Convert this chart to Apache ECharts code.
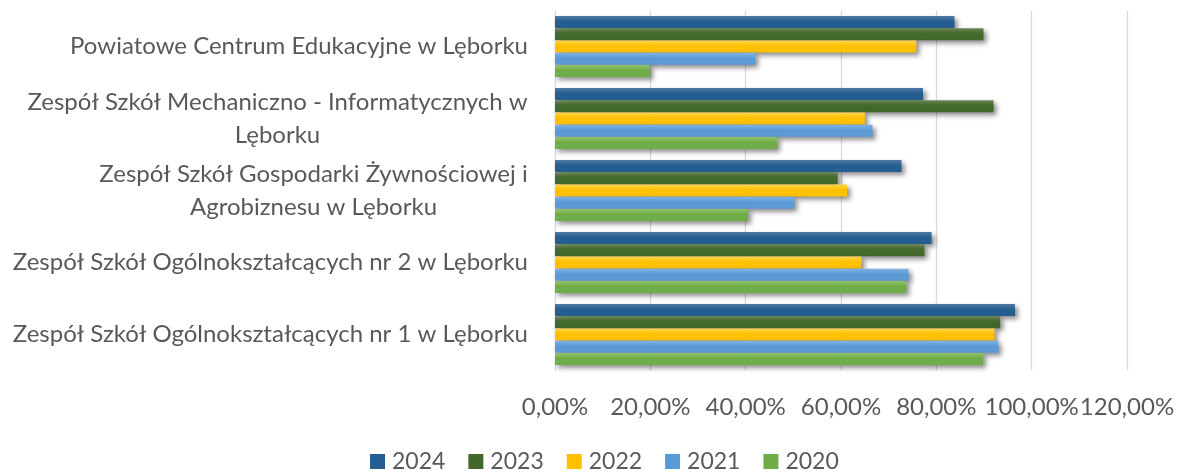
<!DOCTYPE html>
<html>
<head>
<meta charset="utf-8">
<script src="https://cdn.jsdelivr.net/npm/echarts@6/dist/echarts.min.js"></script>
<style>html,body{margin:0;padding:0;background:#fff;}#c{width:1181px;height:472px;}</style>
</head>
<body>
<div id="c"></div>
<script>
// Categories listed bottom -> top (ECharts category axis order)
const categories = [
  'Zespół Szkół Ogólnokształcących nr 1 w Lęborku',
  'Zespół Szkół Ogólnokształcących nr 2 w Lęborku',
  'Zespół Szkół Gospodarki Żywnościowej i\nAgrobiznesu w Lęborku',
  'Zespół Szkół Mechaniczno - Informatycznych w\nLęborku',
  'Powiatowe Centrum Edukacyjne w Lęborku'
];
const years = ['2024', '2023', '2022', '2021', '2020'];
const v2024 = [96.5, 79.0, 72.7, 77.2, 83.8];
const v2023 = [93.4, 77.5, 59.3, 92.0, 89.9];
const v2022 = [92.2, 64.3, 61.3, 65.0, 75.8];
const v2021 = [93.0, 74.2, 50.2, 66.6, 42.0];
const v2020 = [89.8, 73.7, 40.5, 46.6, 19.9];
const xMin = 0, xMax = 120, xInterval = 20;

const FONT = 'Lato';
const FS = 24;
const TXT = '#595959';

const colors = {
  '2024': ['#5478A6', '#255E91'],
  '2023': ['#6A8557', '#43682B'],
  '2022': ['#FFD24D', '#FFC000'],
  '2021': ['#7FB2E0', '#5B9BD5'],
  '2020': ['#8FC26E', '#70AD47']
};
const seriesData = { '2024': v2024, '2023': v2023, '2022': v2022, '2021': v2021, '2020': v2020 };

// measure lines for centered multi-line labels
const cv = document.createElement('canvas').getContext('2d');
cv.font = FS + 'px ' + FONT;
const rich = {};
categories.forEach((c, i) => {
  const lines = c.split('\n');
  if (lines.length > 1) {
    const w = Math.max(...lines.map(l => cv.measureText(l).width));
    rich['w' + i] = { width: Math.ceil(w), align: 'center', fontSize: FS, fontFamily: FONT, color: TXT, lineHeight: 33 };
  }
});

const series = years.map(y => ({
  name: y,
  type: 'bar',
  data: seriesData[y],
  barGap: '2%',
  barCategoryGap: '15%',
  itemStyle: {
    color: new echarts.graphic.LinearGradient(0, 0, 0, 1, [
      { offset: 0, color: colors[y][0] },
      { offset: 0.45, color: colors[y][1] },
      { offset: 1, color: colors[y][1] }
    ]),
    shadowColor: 'rgba(0,0,0,0.45)',
    shadowBlur: 5,
    shadowOffsetX: 3,
    shadowOffsetY: 3
  },
  emphasis: { disabled: true }
}));

const chart = echarts.init(document.getElementById('c'), null, { renderer: 'canvas' });
chart.setOption({
  animation: false,
  backgroundColor: '#fff',
  grid: { left: 555, right: 54, top: 10.5, bottom: 101.5, containLabel: false, outerBoundsMode: 'none' },
  legend: {
    data: years.map(y => ({ name: y, itemStyle: { color: colors[y][1] } })),
    top: 450,
    padding: 0,
    left: 370,
    itemWidth: 15,
    itemHeight: 15,
    itemGap: 23,
    icon: 'rect',
    textStyle: { fontFamily: FONT, fontSize: 23, color: TXT, padding: [0, 0, 0, 2] }
  },
  xAxis: {
    type: 'value',
    min: xMin, max: xMax, interval: xInterval,
    axisLine: { show: false },
    axisTick: { show: false },
    splitLine: { show: true, lineStyle: { color: '#D9D9D9', width: 1.3 } },
    axisLabel: {
      margin: 25,
      showMinLabel: true, showMaxLabel: true, hideOverlap: false,
      fontFamily: FONT, fontSize: FS, color: TXT,
      formatter: v => v.toFixed(2).replace('.', ',') + '%'
    }
  },
  yAxis: {
    type: 'category',
    data: categories,
    axisLine: { show: false },
    axisTick: { show: false },
    axisLabel: {
      margin: 27,
      fontFamily: FONT, fontSize: FS, color: TXT, lineHeight: 33,
      formatter: (value, idx) => {
        const lines = value.split('\n');
        if (lines.length === 1) return value;
        return lines.map(l => '{w' + idx + '|' + l + '}').join('\n');
      },
      rich: rich
    }
  },
  series: series
});
</script>
</body>
</html>
